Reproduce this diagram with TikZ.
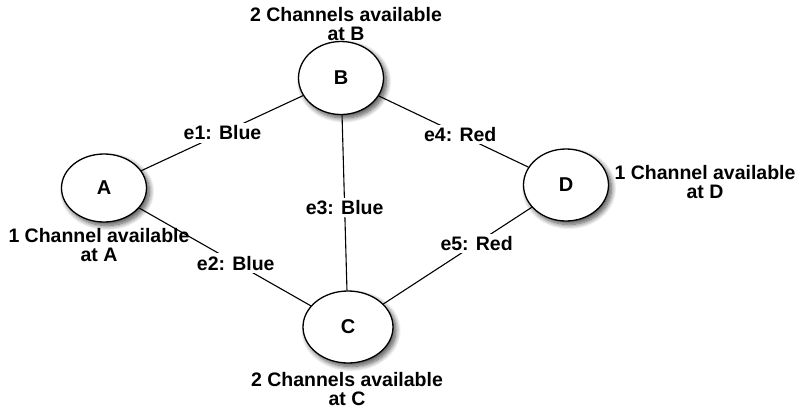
\documentclass[tikz,border=0pt]{standalone}
\usepackage{fontspec}
\setmainfont{Liberation Sans}
\usetikzlibrary{shapes.geometric,calc,shadows.blur}
\begin{document}
\begin{tikzpicture}[x=1pt,y=-1pt,
  vtx/.style={ellipse,draw,line width=1.3pt,fill=white,inner sep=0pt,
    font=\bfseries\fontsize{20}{18}\selectfont,
    blur shadow={shadow xshift=3pt,shadow yshift=-3.5pt,shadow blur steps=10,shadow blur radius=5pt,shadow opacity=70}},
  conn/.style={line width=1.1pt,draw=black},
  elab/.style={fill=white,inner sep=2.5pt,font=\bfseries\fontsize{19.5}{18}\selectfont},
  caplab/.style={align=center,font=\bfseries\fontsize{19.5}{19.5}\selectfont,inner sep=0pt}]
\useasboundingbox (0,0) rectangle (799,410);
\node[vtx,minimum width=85pt,minimum height=68pt] (A) at (104,188) {A};
\node[vtx,minimum width=85pt,minimum height=73pt] (B) at (341,78) {B};
\node[vtx,minimum width=90pt,minimum height=72pt] (C) at (348,327) {C};
\node[vtx,minimum width=85pt,minimum height=72pt] (D) at (566,185) {D};
\draw[conn] (A) -- (B);
\draw[conn] (A) -- (C);
\draw[conn] (B) -- (C);
\draw[conn] (B) -- (D);
\draw[conn] (C) -- (D);
\node[elab] (l1) at ($(A)!0.50!(B)$) {e1: Blue};
\node[elab] (l2) at ($(A)!0.54!(C)$) {e2: Blue};
\node[elab] (l3) at ($(B)!0.52!(C)$) {e3: Blue};
\node[elab] (l4) at ($(B)!0.53!(D)$) {e4: Red};
\node[elab] (l5) at ($(C)!0.59!(D)$) {e5: Red};
\node[caplab] (cB) at (346,24) {2 Channels available\\at B};
\node[caplab] (cA) at (99,245) {1 Channel available\\at A};
\node[caplab] (cD) at (705,182) {1 Channel available\\at D};
\node[caplab] (cC) at (347,389) {2 Channels available\\at C};
\end{tikzpicture}
\end{document}
